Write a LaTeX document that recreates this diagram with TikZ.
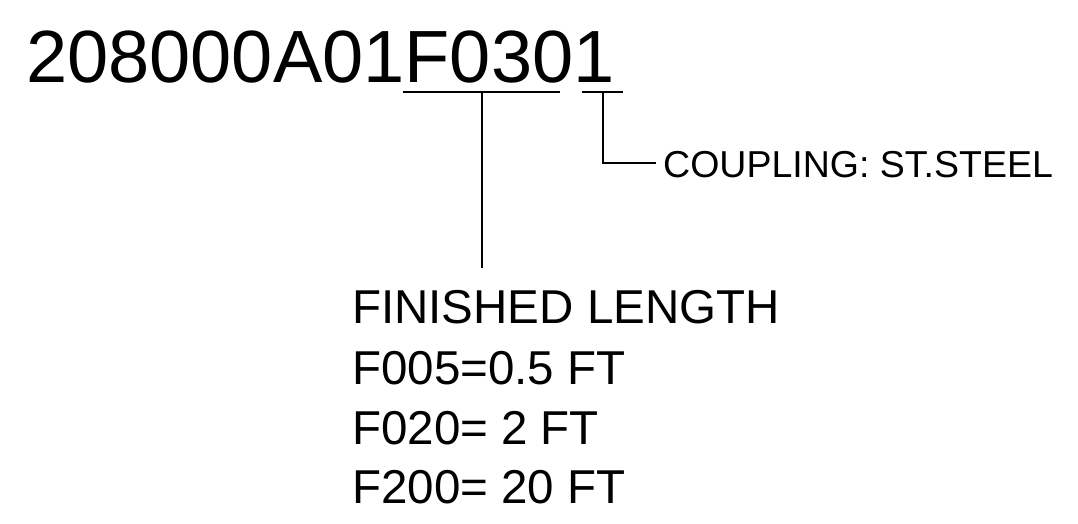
\documentclass[tikz,border=0pt]{standalone}
\usepackage{fontspec}
\setmainfont{Liberation Sans}
\begin{document}
\begin{tikzpicture}[x=1pt,y=-1pt,
  lbl/.style={inner sep=0pt,anchor=base west,text=black},
  big/.style={lbl,font=\fontsize{74}{74}\selectfont},
  mid/.style={lbl,font=\fontsize{47.5}{47.5}\selectfont},
  small/.style={lbl,font=\fontsize{37.5}{37.5}\selectfont},
  ln/.style={draw=black,line width=1.3pt}]
\useasboundingbox (0,0) rectangle (1078,524);
\node[big] (code) at (26,83) {208000A01F0301};
\node[small] (coup) at (663,177) {COUPLING: ST.STEEL};
\node[mid] (fin) at (352,323) {FINISHED LENGTH};
\node[mid] (f1) at (352,384) {F005=0.5 FT};
\node[mid] (f2) at (352,444) {F020= 2 FT};
\node[mid] (f3) at (352,503) {F200= 20 FT};
\coordinate (u1a) at (403,92);
\coordinate (u1b) at (560,92);
\coordinate (u1m) at (482,92);
\coordinate (u2a) at (582,92);
\coordinate (u2b) at (623,92);
\coordinate (u2m) at (603,92);
\coordinate (finTop) at (482,268);
\coordinate (corner) at (603,163);
\coordinate (coupEnd) at (656,163);
\draw[ln] (u1a) -- (u1b);
\draw[ln] (u2a) -- (u2b);
\draw[ln] (u1m) -- (finTop);
\draw[ln] (u2m) -- (corner) -- (coupEnd);
\end{tikzpicture}
\end{document}
